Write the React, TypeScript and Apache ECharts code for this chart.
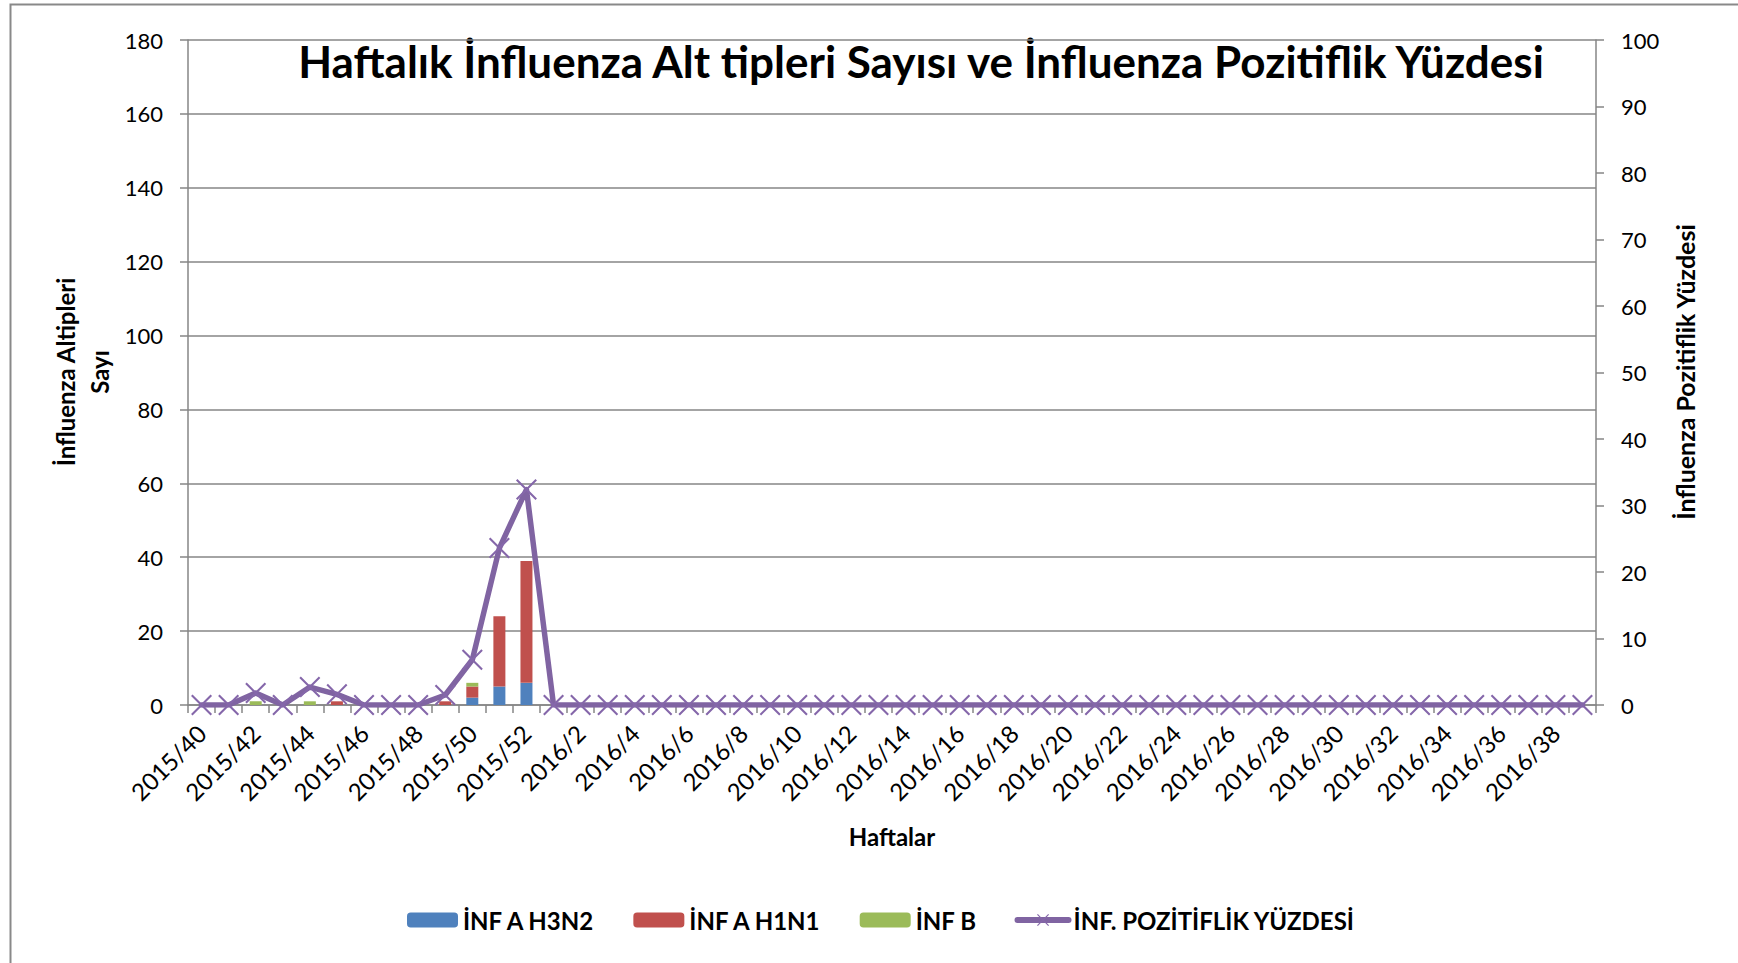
import React, { useEffect, useRef } from "react";
import * as echarts from "echarts";

const weeks = [
  "2015/40", "2015/41", "2015/42", "2015/43", "2015/44", "2015/45", "2015/46",
  "2015/47", "2015/48", "2015/49", "2015/50", "2015/51", "2015/52",
  "2016/1", "2016/2", "2016/3", "2016/4", "2016/5", "2016/6", "2016/7",
  "2016/8", "2016/9", "2016/10", "2016/11", "2016/12", "2016/13", "2016/14",
  "2016/15", "2016/16", "2016/17", "2016/18", "2016/19", "2016/20", "2016/21",
  "2016/22", "2016/23", "2016/24", "2016/25", "2016/26", "2016/27", "2016/28",
  "2016/29", "2016/30", "2016/31", "2016/32", "2016/33", "2016/34", "2016/35",
  "2016/36", "2016/37", "2016/38", "2016/39",
];

const infAH3N2 = [
  0, 0, 0, 0, 0, 0, 0, 0, 0, 0, 2, 5, 6,
  0, 0, 0, 0, 0, 0, 0, 0, 0, 0, 0, 0, 0,
  0, 0, 0, 0, 0, 0, 0, 0, 0, 0, 0, 0, 0,
  0, 0, 0, 0, 0, 0, 0, 0, 0, 0, 0, 0, 0,
];

const infAH1N1 = [
  0, 0, 0, 0, 0, 1, 0, 0, 0, 1, 3, 19, 33,
  0, 0, 0, 0, 0, 0, 0, 0, 0, 0, 0, 0, 0,
  0, 0, 0, 0, 0, 0, 0, 0, 0, 0, 0, 0, 0,
  0, 0, 0, 0, 0, 0, 0, 0, 0, 0, 0, 0, 0,
];

const infB = [
  0, 0, 1, 0, 1, 0, 0, 0, 0, 0, 1, 0, 0,
  0, 0, 0, 0, 0, 0, 0, 0, 0, 0, 0, 0, 0,
  0, 0, 0, 0, 0, 0, 0, 0, 0, 0, 0, 0, 0,
  0, 0, 0, 0, 0, 0, 0, 0, 0, 0, 0, 0, 0,
];

const positivity = [
  0, 0, 1.8, 0, 2.7, 1.6, 0, 0, 0, 1.5, 6.8, 23.6, 32.4,
  0, 0, 0, 0, 0, 0, 0, 0, 0, 0, 0, 0, 0,
  0, 0, 0, 0, 0, 0, 0, 0, 0, 0, 0, 0, 0,
  0, 0, 0, 0, 0, 0, 0, 0, 0, 0, 0, 0, 0,
];

const seriesNames = ["İNF A H3N2", "İNF A H1N1", "İNF B", "İNF. POZİTİFLİK YÜZDESİ"];
const titleText = "Haftalık İnfluenza Alt tipleri Sayısı ve İnfluenza Pozitiflik Yüzdesi";
const leftAxisTitle = "İnfluenza Altipleri\nSayı";
const rightAxisTitle = "İnfluenza Pozitiflik Yüzdesi";
const xAxisTitle = "Haftalar";

const FONT = "Lato, 'Open Sans', sans-serif";
const GRID_COLOR = "#868686";
const LINE_COLOR = "#8064A2";
const X_SYMBOL =
  "path://M0,1.4L1.4,0L10,8.6L18.6,0L20,1.4L11.4,10L20,18.6L18.6,20L10,11.4L1.4,20L0,18.6L8.6,10Z";

export default function App() {
  const ref = useRef<HTMLDivElement>(null);

  useEffect(() => {
    if (!ref.current) return;
    const chart = echarts.init(ref.current, undefined, { renderer: "svg" });
    const barCommon = {
      type: "bar",
      stack: "total",
      barWidth: 12,
      yAxisIndex: 0,
    };
    chart.setOption({
      animation: false,
      backgroundColor: "#ffffff",
      textStyle: { fontFamily: FONT, color: "#000" },
      grid: { left: 188, right: 142, top: 40, bottom: 258, containLabel: false },
      legend: {
        left: 407,
        top: 908,
        padding: 0,
        itemGap: 38,
        itemWidth: 51,
        itemHeight: 15,
        textStyle: { fontFamily: FONT, fontSize: 24, fontWeight: "bold", color: "#000" },
        data: [
          seriesNames[0],
          seriesNames[1],
          seriesNames[2],
          {
            name: seriesNames[3],
            lineStyle: { width: 6, color: LINE_COLOR, cap: "round" },
            itemStyle: { color: "#8567AA" },
          },
        ],
      },
      xAxis: {
        type: "category",
        data: weeks,
        boundaryGap: true,
        axisLine: { show: true, lineStyle: { color: GRID_COLOR, width: 1.5 } },
        axisTick: { show: true, inside: false, length: 8, interval: 0, lineStyle: { color: GRID_COLOR, width: 1.5 } },
        axisLabel: {
          interval: 1,
          rotate: 45,
          margin: 24,
          fontSize: 24,
          fontFamily: FONT,
          color: "#000",
        },
        splitLine: { show: false },
      },
      yAxis: [
        {
          type: "value",
          min: 0,
          max: 180,
          interval: 20,
          position: "left",
          axisLine: { show: true, lineStyle: { color: GRID_COLOR, width: 1.5 } },
          axisTick: { show: true, length: 8, lineStyle: { color: GRID_COLOR, width: 1.5 } },
          axisLabel: { margin: 25, fontSize: 22, fontFamily: FONT, color: "#000" },
          splitLine: { show: true, lineStyle: { color: GRID_COLOR, width: 1.5 } },
        },
        {
          type: "value",
          min: 0,
          max: 100,
          interval: 10,
          position: "right",
          axisLine: { show: true, lineStyle: { color: GRID_COLOR, width: 1.5 } },
          axisTick: { show: true, length: 8, lineStyle: { color: GRID_COLOR, width: 1.5 } },
          axisLabel: { margin: 25, fontSize: 22, fontFamily: FONT, color: "#000" },
          splitLine: { show: false },
        },
      ],
      series: [
        { ...barCommon, name: seriesNames[0], data: infAH3N2, itemStyle: { color: "#4F81BD" } },
        { ...barCommon, name: seriesNames[1], data: infAH1N1, itemStyle: { color: "#C0504D" } },
        { ...barCommon, name: seriesNames[2], data: infB, itemStyle: { color: "#9BBB59" } },
        {
          type: "line",
          name: seriesNames[3],
          yAxisIndex: 1,
          data: positivity,
          symbol: X_SYMBOL,
          symbolSize: 21,
          showAllSymbol: true,
          lineStyle: { color: LINE_COLOR, width: 5.5, cap: "round", join: "round" },
          itemStyle: { color: "#8567AA" },
          z: 5,
        },
      ],
      graphic: [
        {
          type: "rect",
          shape: { x: 10.5, y: 4.5, width: 1800, height: 1000 },
          style: { fill: "none", stroke: "#898989", lineWidth: 2 },
          silent: true,
          z: -1,
        },
        {
          type: "text",
          x: 921,
          y: 61,
          style: {
            text: titleText,
            font: `bold 44px ${FONT}`,
            fill: "#000",
            align: "center",
            verticalAlign: "middle",
            textAlign: "center",
            textVerticalAlign: "middle",
          },
        },
        {
          type: "text",
          x: 82,
          y: 372,
          rotation: Math.PI / 2,
          style: {
            text: leftAxisTitle,
            font: `bold 24px ${FONT}`,
            fill: "#000",
            align: "center",
            verticalAlign: "middle",
            textAlign: "center",
            textVerticalAlign: "middle",
            lineHeight: 34,
          },
        },
        {
          type: "text",
          x: 1685,
          y: 372,
          rotation: Math.PI / 2,
          style: {
            text: rightAxisTitle,
            font: `bold 25px ${FONT}`,
            fill: "#000",
            align: "center",
            verticalAlign: "middle",
            textAlign: "center",
            textVerticalAlign: "middle",
          },
        },
        {
          type: "text",
          x: 892,
          y: 836,
          style: {
            text: xAxisTitle,
            font: `bold 24px ${FONT}`,
            fill: "#000",
            align: "center",
            verticalAlign: "middle",
            textAlign: "center",
            textVerticalAlign: "middle",
          },
        },
      ],
    });
    return () => chart.dispose();
  }, []);

  return (
    <div
      ref={ref}
      style={{ position: "absolute", left: 0, top: 0, width: 1738, height: 963, background: "#fff" }}
    />
  );
}
